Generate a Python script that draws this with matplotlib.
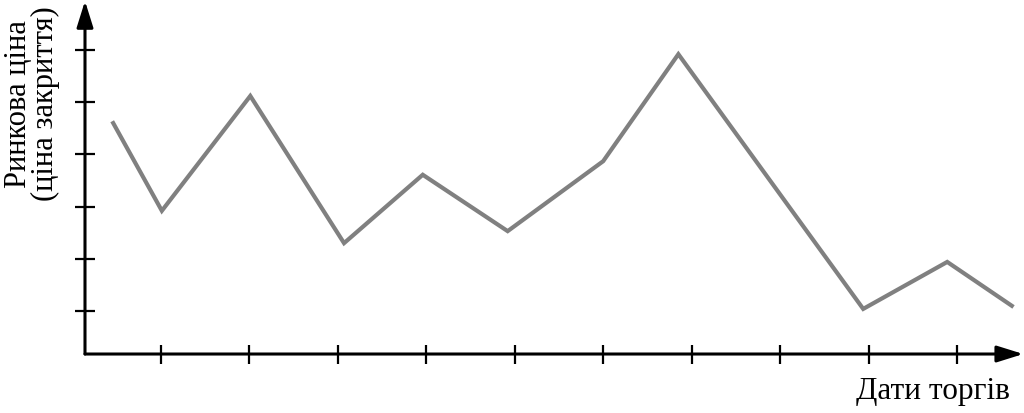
import numpy as np
import matplotlib.pyplot as plt

plt.rcParams['font.family'] = ['Liberation Serif', 'DejaVu Serif']

# Дані (у одиницях поділок осей)
dates = [0.46, 1.01, 2.01, 3.07, 3.96, 4.92, 6.0, 6.85, 8.94, 9.89, 10.62]
prices = [4.60, 2.92, 5.12, 2.30, 3.61, 2.53, 3.87, 5.92, 1.04, 1.94, 1.10]
x_ticks = list(range(1, 11))
y_ticks = list(range(1, 7))

x0, y0 = 0.141, 0.176      # початок координат
x_end, y_end = 10.75, 6.94  # кінці стрілок

fig = plt.figure(figsize=(10.24, 4.13), dpi=100)
ax = fig.add_axes([0, 0, 1, 1])
ax.set_xlim(-0.820, 10.758)
ax.set_ylim(-0.954, 6.958)
ax.axis('off')

# осі зі стрілками
ax.annotate('', xy=(x_end, y0), xytext=(x0, y0),
            arrowprops=dict(arrowstyle='-|>,head_length=1.6,head_width=0.5',
                            color='black', lw=2.2, shrinkA=0, shrinkB=0))
ax.annotate('', xy=(x0, y_end), xytext=(x0, y0),
            arrowprops=dict(arrowstyle='-|>,head_length=1.6,head_width=0.5',
                            color='black', lw=2.2, shrinkA=0, shrinkB=0))

# поділки
dx = 10 / 88.44
dy = 9.5 / 52.2
for t in x_ticks:
    ax.plot([t, t], [y0 - dy, y0 + dy], color='black', lw=1.6, solid_capstyle='butt')
for t in y_ticks:
    ax.plot([x0 - dx, x0 + dx], [t, t], color='black', lw=1.6, solid_capstyle='butt')

# лінія цін
ax.plot(dates, prices, color='#808080', lw=3, solid_joinstyle='miter')

ax.text(0.986, 0.052, 'Дати торгів', transform=fig.transFigure,
        ha='right', va='center', fontsize=22.5)
ax.text(0.031, 0.748, 'Ринкова ціна\n(ціна закриття)', transform=fig.transFigure,
        ha='center', va='center', rotation=90, fontsize=22, linespacing=0.9)

fig.savefig('out.png', dpi=100)
